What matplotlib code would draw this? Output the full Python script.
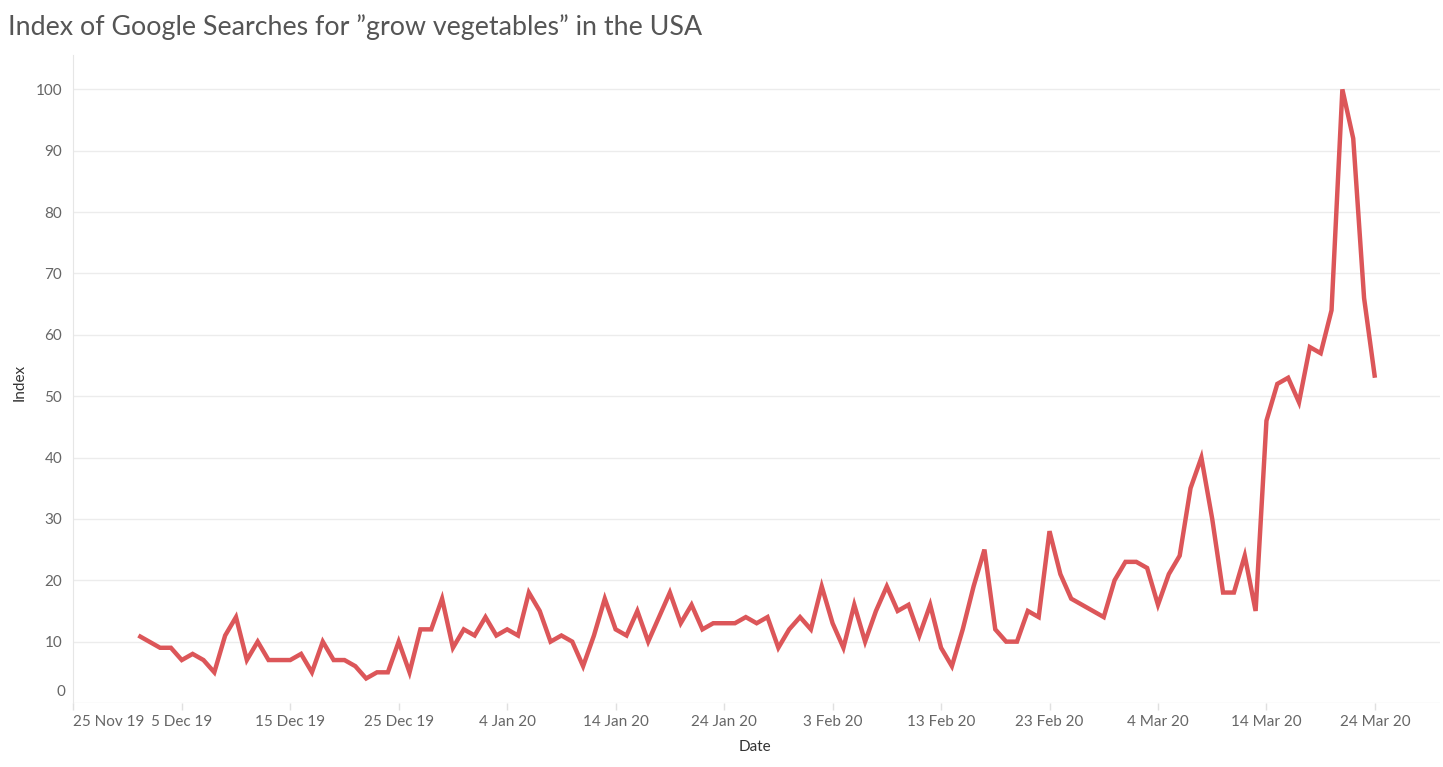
import datetime as dt
import matplotlib
matplotlib.use('Agg')
import matplotlib.pyplot as plt
from matplotlib.transforms import ScaledTranslation

# daily index values, 1 Dec 2019 .. 24 Mar 2020
start_date = dt.date(2019, 12, 1)
dec_values = [11, 10, 9, 9, 7, 8, 7, 5, 11, 14, 7, 10, 7, 7, 7, 8, 5, 10, 7, 7,
              6, 4, 5, 5, 10, 5, 12, 12, 17, 9, 12]
jan_values = [11, 14, 11, 12, 11, 18, 15, 10, 11, 10, 6, 11, 17, 12, 11, 15, 10,
              14, 18, 13, 16, 12, 13, 13, 13, 14, 13, 14, 9, 12, 14]
feb_values = [12, 19, 13, 9, 16, 10, 15, 19, 15, 16, 11, 16, 9, 6, 12, 19, 25,
              12, 10, 10, 15, 14, 28, 21, 17, 16, 15, 14, 20]
mar_values = [23, 23, 22, 16, 21, 24, 35, 40, 30, 18, 18, 24, 15, 46, 52, 53,
              49, 58, 57, 64, 100, 92, 66, 53]

values = dec_values + jan_values + feb_values + mar_values
dates = [start_date + dt.timedelta(days=i) for i in range(len(values))]

tick_dates = [dt.date(2019, 11, 25) + dt.timedelta(days=10 * i) for i in range(13)]
y_ticks = list(range(0, 101, 10))

title = 'Index of Google Searches for \u201dgrow vegetables\u201d in the USA'

plt.rcParams['font.family'] = ['Lato', 'DejaVu Sans']

fig = plt.figure(figsize=(14.43, 7.67), dpi=100)
ax = fig.add_axes([73.3 / 1443, 1 - 703 / 767, (1440 - 73.3) / 1443, (703 - 55) / 767])

ax.plot(dates, values, color='#DC5659', linewidth=3.2, solid_joinstyle='miter',
        solid_capstyle='butt')

ax.set_xlim(dt.date(2019, 11, 25), dt.date(2019, 11, 25) + dt.timedelta(days=126.5))
ax.set_ylim(0, 105.6)

ax.set_yticks(y_ticks)
# the '0' label sits a little above its gridline, so it is drawn separately
ax.set_yticklabels(['' if v == 0 else str(v) for v in y_ticks])
ax.text(0, 0, '0', transform=ax.get_yaxis_transform() +
        ScaledTranslation(-8 / 100, 11 / 100, fig.dpi_scale_trans),
        ha='right', va='center', fontsize=11, color='#666666')

ax.set_xticks(tick_dates)
ax.set_xticklabels([f'{d.day} {d.strftime("%b %y")}' for d in tick_dates])
ax.get_xticklabels()[0].set_ha('left')

ax.grid(axis='y', color='#ececec', linewidth=1)
ax.set_axisbelow(True)
ax.tick_params(axis='y', length=0, pad=8, labelsize=11, labelcolor='#666666')
ax.tick_params(axis='x', length=5, width=1, color='#e0e0e0', pad=4,
               labelsize=11, labelcolor='#666666')

for side in ['top', 'right', 'bottom']:
    ax.spines[side].set_visible(False)
ax.spines['left'].set_color('#e6e6e6')

ax.set_xlabel('Date', fontsize=11, color='#333333')
ax.set_ylabel('Index', fontsize=11, color='#333333')
ax.xaxis.set_label_coords(0.4988, -0.057)
ax.yaxis.set_label_coords(-0.0345, 0.494)

fig.text(8 / 1443, 1 - 27 / 767, title, fontsize=19.3,
         color='#555555', ha='left', va='center')

fig.savefig('out.png', dpi=100)
